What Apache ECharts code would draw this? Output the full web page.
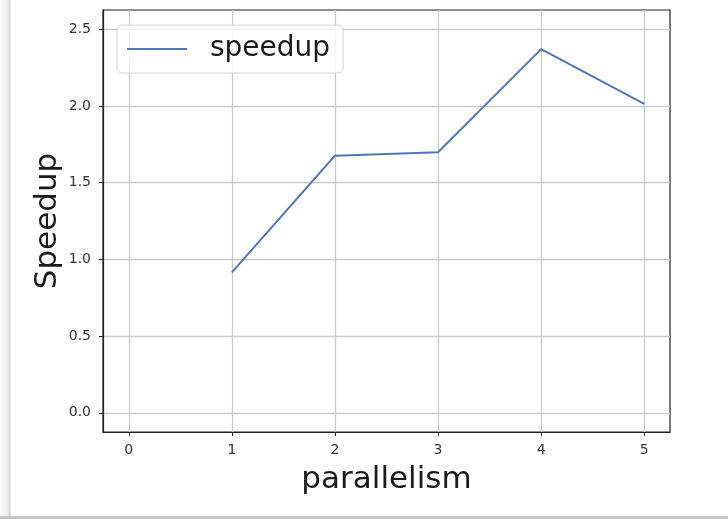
<!DOCTYPE html>
<html>
<head>
<meta charset="utf-8">
<script src="https://cdn.jsdelivr.net/npm/echarts@6/dist/echarts.min.js"></script>
<style>
  html, body { margin: 0; padding: 0; background: #ffffff; }
  #chart { width: 728px; height: 519px; }
</style>
</head>
<body>
<div id="chart"></div>
<script>
// Speedup measured at each level of parallelism
const parallelism = [1, 2, 3, 4, 5];
const speedup = [0.915, 1.676, 1.698, 2.370, 2.013];

// Axis ticks
const xTicks = [0, 1, 2, 3, 4, 5];
const yTicks = [0.0, 0.5, 1.0, 1.5, 2.0, 2.5];

const FONT = '"DejaVu Sans", sans-serif';
const LINE_BLUE = '#5076bb';

const chart = echarts.init(document.getElementById('chart'), null, { renderer: 'canvas' });

chart.setOption({
  backgroundColor: '#ffffff',
  animation: false,
  grid: {
    left: 103, top: 10, width: 567, height: 422,
    show: true, borderColor: '#222222', borderWidth: 1.2,
    backgroundColor: 'transparent'
  },
  legend: {
    left: 117, top: 25,
    orient: 'horizontal',
    icon: 'rect',
    itemWidth: 60, itemHeight: 2,
    itemGap: 10,
    padding: [8, 13, 8, 10],
    backgroundColor: 'rgba(255,255,255,0.8)',
    borderColor: '#d6d6d6', borderWidth: 1, borderRadius: 5,
    textStyle: { fontFamily: FONT, fontSize: 28, color: '#1a1a1a', lineHeight: 32, padding: [0, 0, 0, 18] },
    data: ['speedup']
  },
  xAxis: {
    type: 'value',
    min: -0.25, max: 5.25,
    name: 'parallelism',
    nameLocation: 'middle',
    nameGap: 32,
    nameMoveOverlap: false,
    nameTextStyle: { fontFamily: FONT, fontSize: 31, color: '#1a1a1a' },
    axisLine: { show: true, onZero: false, lineStyle: { color: '#222222', width: 1.2 } },
    axisTick: { show: true, inside: false, length: 4, customValues: xTicks, lineStyle: { color: '#222222', width: 1 } },
    axisLabel: { customValues: xTicks, margin: 11, fontFamily: FONT, fontSize: 14, color: '#333333',
                 formatter: v => String(v) },
    splitLine: { show: true, lineStyle: { color: '#cccccc', width: 1.3 } }
  },
  yAxis: {
    type: 'value',
    min: -0.125, max: 2.625,
    name: 'Speedup',
    nameLocation: 'middle',
    nameGap: 40,
    nameMoveOverlap: false,
    nameTextStyle: { fontFamily: FONT, fontSize: 31, color: '#1a1a1a' },
    axisLine: { show: true, onZero: false, lineStyle: { color: '#222222', width: 1.2 } },
    axisTick: { show: true, inside: false, length: 4, customValues: yTicks, lineStyle: { color: '#222222', width: 1 } },
    axisLabel: { customValues: yTicks, margin: 12, fontFamily: FONT, fontSize: 14, color: '#333333',
                 formatter: v => v.toFixed(1) },
    splitLine: { show: true, lineStyle: { color: '#cccccc', width: 1.3 } }
  },
  series: [{
    name: 'speedup',
    type: 'line',
    data: parallelism.map((p, i) => [p, speedup[i]]),
    symbol: 'none',
    lineStyle: { color: LINE_BLUE, width: 2 },
    itemStyle: { color: LINE_BLUE }
  }],
  graphic: [
    {
      type: 'rect', left: 0, top: 0, z: 100,
      shape: { x: 0, y: 0, width: 11, height: 519 },
      style: {
        fill: new echarts.graphic.LinearGradient(0, 0, 1, 0, [
          { offset: 0, color: '#fbfbfb' },
          { offset: 0.7, color: '#ececec' },
          { offset: 0.9, color: '#d4d4d4' },
          { offset: 1, color: '#f4f4f4' }
        ])
      }
    },
    {
      type: 'rect', left: 0, top: 516, z: 100,
      shape: { x: 0, y: 0, width: 728, height: 3 },
      style: { fill: '#c4c4c4' }
    }
  ]
});
</script>
</body>
</html>
